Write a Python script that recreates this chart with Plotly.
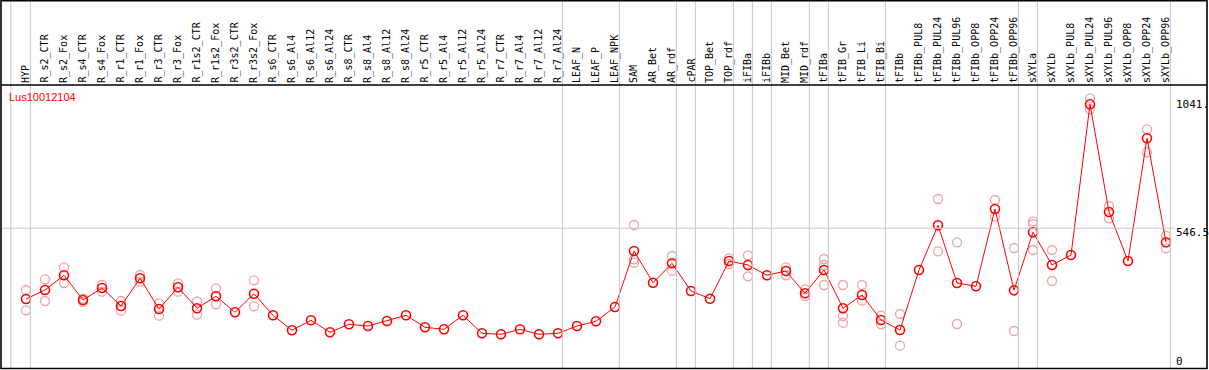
import plotly.graph_objects as go

categories = [
    "HYP", "R_s2_CTR", "R_s2_Fox", "R_s4_CTR", "R_s4_Fox", "R_r1_CTR", "R_r1_Fox",
    "R_r3_CTR", "R_r3_Fox", "R_r1s2_CTR", "R_r1s2_Fox", "R_r3s2_CTR", "R_r3s2_Fox",
    "R_s6_CTR", "R_s6_Al4", "R_s6_Al12", "R_s6_Al24", "R_s8_CTR", "R_s8_Al4",
    "R_s8_Al12", "R_s8_Al24", "R_r5_CTR", "R_r5_Al4", "R_r5_Al12", "R_r5_Al24",
    "R_r7_CTR", "R_r7_Al4", "R_r7_Al12", "R_r7_Al24", "LEAF_N", "LEAF_P", "LEAF_NPK",
    "SAM", "AR_Bet", "AR_rdf", "cPAR", "TOP_Bet", "TOP_rdf", "iFIBa", "iFIBb",
    "MID_Bet", "MID_rdf", "tFIBa", "tFIB_Gr", "tFIB_Li", "tFIB_Bi", "tFIBb",
    "tFIBb_PUL8", "tFIBb_PUL24", "tFIBb_PUL96", "tFIBb_OPP8", "tFIBb_OPP24", "tFIBb_OPP96",
    "sXYLa", "sXYLb", "sXYLb_PUL8", "sXYLb_PUL24", "sXYLb_PUL96", "sXYLb_OPP8",
    "sXYLb_OPP24", "sXYLb_OPP96",
]

mean_values = [
    264.4, 300.2, 358.9, 260.4, 308.2, 236.4, 346.9, 224.5, 311.0, 227.3,
    275.1, 211.3, 285.5, 199.4, 139.6, 179.4, 131.6, 163.5, 156.7, 176.6,
    199.4, 151.5, 143.5, 199.4, 127.6, 123.6, 143.5, 123.6, 127.6, 156.7,
    175.4, 232.5, 455.7, 329.3, 406.7, 296.3, 265.6, 415.9, 399.9, 358.9,
    376.0, 287.1, 380.0, 227.3, 280.3, 180.6, 140.8, 380.0, 558.2, 328.1,
    315.0, 623.2, 299.0, 530.3, 399.9, 439.8, 1041.0, 611.2, 415.9, 905.1,
    490.4,
]

replicates = [
    [300.2, 219.3], [342.9, 256.4], [390.7, 328.1], [265.6, 252.4], [320.2, 293.5],
    [256.4, 217.7], [360.0, 333.3], [247.2, 197.8], [327.0, 293.5], [255.2, 201.8],
    [307.0, 243.2], [], [338.9, 235.2], [], [], [], [], [], [], [],
    [], [], [], [], [], [], [], [], [], [],
    [], [], [559.4, 422.6, 409.1], [], [435.8, 377.2], [], [], [426.6, 403.9],
    [438.6, 354.9], [], [390.7, 358.9], [303.0, 276.3], [423.8, 399.9, 320.2],
    [320.2, 196.6, 169.9], [320.2, 257.6], [197.8, 163.5], [204.5, 78.1], [],
    [663.1, 454.5], [490.4, 164.7], [], [659.1, 592.5], [467.7, 136.8],
    [574.2, 563.4, 459.7], [459.7, 336.1], [], [1064.6, 1020.7], [635.2, 586.1],
    [], [941.0, 849.4], [516.7, 466.5],
]

gene_id = "Lus10012104"
axis_labels = ["1041.", "546.5", "0"]
axis_label_values = [1041.0, 546.5, 0.0]
axis_label_shift = [0, -4, 4]
grid_value = 546.5
group_boundaries = [-1, 0, 28, 31, 34, 35, 37, 38, 39, 41, 42, 45, 52, 53, 60]

W, H = 1209, 370
TOP, BOT = 85, 369
PH = BOT - TOP
PX_PER_CAT = 19
X0_PX = 26
PX_PER_UNIT = 0.2508
ZERO_PX = 365.3

def py(Y):
    return (BOT - Y) / PH

x_idx = list(range(len(categories)))
rx, ry = [], []
for i, reps in enumerate(replicates):
    for v in reps:
        rx.append(i)
        ry.append(v)

fig = go.Figure()
fig.add_trace(go.Scatter(
    x=rx, y=ry, mode="markers",
    marker=dict(symbol="circle-open", size=9, color="#f0a2a2", line=dict(width=1.3, color="#f0a2a2")),
    hoverinfo="skip", showlegend=False,
))
fig.add_trace(go.Scatter(
    x=x_idx, y=mean_values, mode="lines+markers",
    line=dict(color="#ff0000", width=1),
    marker=dict(symbol="circle-open", size=9, color="#ff0000", line=dict(width=1.6, color="#ff0000")),
    text=categories, showlegend=False,
))

xmin = -X0_PX / PX_PER_CAT
xmax = xmin + W / PX_PER_CAT
ymax = (ZERO_PX - TOP) / PX_PER_UNIT
ymin = ymax - PH / PX_PER_UNIT

shapes = []
for b in group_boundaries:
    xb = b + (0.2 if b < 0 else 0.23)
    shapes.append(dict(type="line", xref="x", yref="paper", x0=xb, x1=xb,
                       y0=py(368), y1=py(1), line=dict(color="#c8c8c8", width=1)))
shapes.append(dict(type="line", xref="paper", yref="y", x0=2 / W, x1=1175 / W,
                   y0=grid_value, y1=grid_value, line=dict(color="#c8c8c8", width=1)))
shapes.append(dict(type="line", xref="paper", yref="paper", x0=1 / W, x1=1207 / W,
                   y0=py(85), y1=py(85), line=dict(color="black", width=1.5)))
shapes.append(dict(type="rect", xref="paper", yref="paper", x0=1 / W, x1=1207 / W,
                   y0=py(368.5), y1=py(0.8), line=dict(color="black", width=1.6)))

annotations = []
for i, c in enumerate(categories):
    annotations.append(dict(x=i, xref="x", y=py(84), yref="paper", text=c,
                            textangle=-90, showarrow=False, xanchor="center", yanchor="bottom",
                            font=dict(family="DejaVu Sans Mono", size=10, color="black"),
                            borderpad=0))
for t, v, s in zip(axis_labels, axis_label_values, axis_label_shift):
    annotations.append(dict(x=1175 / W, xref="paper", y=v, yref="y", text=t, showarrow=False,
                            xanchor="left", yanchor="middle", yshift=s,
                            font=dict(family="DejaVu Sans Mono", size=11, color="black"),
                            borderpad=0))
annotations.append(dict(x=8 / W, xref="paper", y=py(97), yref="paper", text=gene_id,
                        showarrow=False, xanchor="left", yanchor="middle",
                        font=dict(family="Liberation Sans", size=11, color="#ff0000"), borderpad=0))

fig.update_layout(
    width=W, height=H,
    margin=dict(l=0, r=0, t=TOP, b=H - BOT, pad=0),
    paper_bgcolor="white", plot_bgcolor="white",
    xaxis=dict(range=[xmin, xmax], visible=False, fixedrange=True),
    yaxis=dict(range=[ymin, ymax], visible=False, fixedrange=True),
    shapes=shapes, annotations=annotations,
    showlegend=False,
)

fig.write_html("out.html", config={"displayModeBar": False},
               post_script="document.body.style.margin='0px';document.body.style.overflow='hidden';")
